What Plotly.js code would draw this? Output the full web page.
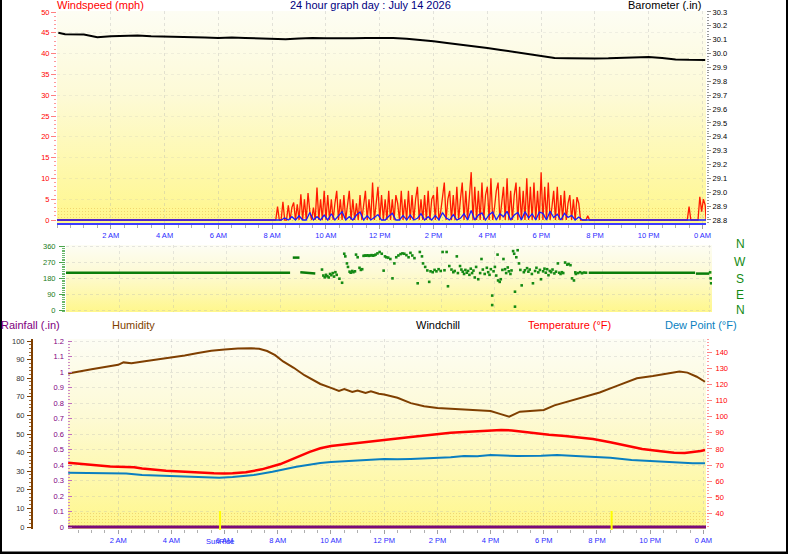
<!DOCTYPE html>
<html>
<head>
<meta charset="utf-8">
<script src="https://cdn.plot.ly/plotly-3.0.1.min.js"></script>
<style>
  html, body { margin: 0; padding: 0; background: #fff; }
  #wrap { position: relative; width: 798px; height: 554px; overflow: hidden; background: #fff; }
  .bg { position: absolute; background: linear-gradient(to bottom, #fdfdf4 0%, #fdfad6 40%, #fff78c 100%); }
  .band { position: absolute;
          background-image: radial-gradient(rgba(225,175,70,0.45) 0.7px, transparent 1px);
          background-size: 3px 3px; }
  #chart { position: absolute; left: 0; top: 0; width: 798px; height: 554px; }
</style>
</head>
<body>
<div id="wrap">
  <div class="bg" style="left:57px;top:11px;width:649px;height:212px;"></div>
  <div class="band" style="left:57px;top:207px;width:649px;height:14px;"></div>
  <div class="bg" style="left:66px;top:245px;width:646px;height:67px;"></div>
  <div class="bg" style="left:68px;top:339px;width:638px;height:190px;"></div>
  <div class="band" style="left:68px;top:512px;width:638px;height:15px;"></div>
  <div id="chart"></div>
</div>
<script>
// ---- Day log, July 14 2026 (times in hours since midnight unless noted) ----

// Barometer (inHg)
const baroHours = [0.05,0.3,1,1.5,2,2.5,3,3.5,4,4.5,5,5.5,6,6.5,7,7.5,8,8.5,9,9.5,10,10.5,11,11.5,12,12.5,13,13.5,14,14.5,15,15.5,16,16.5,17,17.5,18,18.5,19,19.5,20,20.5,21,21.5,22,22.5,23,23.5,24,24.1];
const baroValues = [30.150,30.140,30.138,30.118,30.124,30.130,30.131,30.124,30.122,30.121,30.122,30.115,30.112,30.116,30.112,30.108,30.103,30.104,30.108,30.112,30.110,30.108,30.110,30.113,30.114,30.112,30.106,30.098,30.088,30.076,30.065,30.053,30.040,30.026,30.012,29.995,29.980,29.968,29.966,29.964,29.965,29.966,29.968,29.972,29.976,29.968,29.958,29.955,29.954,29.954];

// Wind gust (mph), times in minutes
const gustMinutes = [0,476,
  480,484,488,492,496,500,504,508,512,516,520,524,528,532,536,
  540,544,548,552,556,560,564,568,572,576,580,584,588,592,596,
  600,604,608,612,616,620,624,628,632,636,640,644,648,652,656,
  660,664,668,672,676,680,684,688,692,696,700,704,708,712,716,
  720,724,728,732,736,740,744,748,752,756,760,764,768,772,776,
  780,784,788,792,796,800,804,808,812,816,820,824,828,832,836,
  840,844,848,852,856,860,864,868,872,876,880,884,888,892,896,
  900,904,908,912,916,920,924,928,932,936,940,944,948,952,956,
  960,964,968,972,976,980,984,988,992,996,1000,1004,1008,1012,1016,
  1020,1024,1028,1032,1036,1040,1044,1048,1052,1056,1060,1064,1068,1072,1076,
  1080,1084,1088,1092,1096,1100,1104,1108,1112,1116,1120,1124,1128,1132,1136,
  1140,1144,1148,1152,1156,1160,1164,1168,
  1180,1184,1188,1406,1410,1414,1430,1434,1438,1442,1446,1448];
const gustValues = [0,0,
  0,0,0,3.2,0,0,4.4,0,0,3.5,0,3,4.2,0,3.8,
  0,6.2,0,5,0,6.5,2,0,3,0,7.8,0,5,0,7,
  0,6,0,5,0,4,7,0,5,0,6,0,4,7,0,
  5,0,4,0,6,0,4,7,0,5,0,9,0,5,8,
  0,6,0,5,0,7,0,5,0,6,4,0,7,0,5,
  0,7,0,6,0,5,8,0,5,0,6,0,7,0,5,
  6,0,8,0,2,6,9,0,5,7,0,6,0,8,0,
  5,9,0,7,0,6,11.5,0,8,0,7,0,9,0,6,
  8,0,10,0,3,7,9,0,4,8,0,10,0,7,0,
  6,9,0,8,0,7,0,10,0,8,0,9,0,7,0,
  11.5,0,8,0,9,0,3,7,0,8,0,6,0,7,0,
  4,6,0,5,0,5.5,4,0,
  0,1,0,0,3.2,0,0,5.6,2,5,3.6,0];

// Average wind speed (mph), times in minutes
const avgMinutes = [0,492,
  500,508,516,524,532,540,548,556,564,572,580,588,596,604,612,620,628,636,644,652,
  660,668,676,684,692,700,708,716,724,732,740,748,756,764,772,780,788,796,804,812,
  820,828,836,844,852,860,868,876,884,892,900,908,916,924,932,940,948,956,964,972,
  980,988,996,1004,1012,1020,1028,1036,1044,1052,1060,1068,1076,1084,1092,1100,1108,1116,1124,1132,
  1140,1148,1156,1164,1172,1448];
const avgValues = [0,0,
  0,0.5,0,0.8,0,1.0,0,0,1.8,0,0.8,0,1.2,0,1.5,0,0.9,2.0,0,0.8,
  0,1.2,1.9,0,1.0,0,0.6,1.3,0,0,0.9,1.6,0,0,1.1,0,1.2,0,0.4,1.5,
  0,0.8,0,1.1,0,1.8,0.5,0,1.3,0,0.4,1.5,0,2.3,0,1.2,1.7,0,1.3,1.9,
  0,1.5,0.8,2.1,0,1.2,1.8,0,2.0,0.5,1.5,0,1.9,1.6,0,2.1,0.6,1.4,0,1.6,
  0.6,1.1,0,0.7,0,0];

// Wind direction (degrees): steady stretches (null separates stretches)
const dirSteadyHours = [0,8.36,null,8.46,8.71,null,8.74,9.0,9.3,null,19.5,23.47,null,23.5,24.0];
const dirSteadyValues = [212,212,null,298,298,null,214,210,208,null,212,212,null,207,207];
// Wind direction (degrees): individual readings
const dirHours = [9.55,9.6,9.65,9.7,9.75,9.8,9.85,9.9,9.95,10.0,10.05,10.1,10.2,10.3,10.38,10.42,10.48,10.52,10.58,10.62,
  10.68,10.72,10.78,10.82,10.88,10.95,11.0,11.05,11.1,11.15,11.2,11.25,11.3,11.35,11.4,11.45,11.5,11.55,11.62,11.7,
  11.78,11.85,11.9,11.95,12.02,12.1,12.18,12.25,12.32,12.4,12.48,12.55,12.62,12.7,12.78,12.85,12.92,13.0,13.12,13.2,
  13.28,13.32,13.4,13.48,13.55,13.6,13.68,13.75,13.82,13.9,13.98,14.05,14.12,14.2,14.25,14.3,14.38,14.45,14.5,14.58,
  14.62,14.7,14.75,14.8,14.85,14.9,14.95,15.0,15.05,15.1,15.15,15.2,15.25,15.3,15.38,15.45,15.5,15.55,15.62,15.7,
  15.75,15.8,15.85,15.9,15.9,15.95,16.0,16.05,16.1,16.12,16.18,16.22,16.28,16.32,16.38,16.42,16.48,16.52,16.58,16.62,
  16.68,16.72,16.75,16.75,16.8,16.85,16.9,16.95,17.0,17.08,17.12,17.2,17.25,17.3,17.38,17.42,17.5,17.55,17.62,17.68,
  17.72,17.8,17.85,17.9,17.95,18.0,18.05,18.1,18.15,18.22,18.28,18.35,18.4,18.45,18.5,18.55,18.62,18.7,18.75,18.82,
  18.88,18.95,19.0,19.02,19.1,19.18,19.25,19.32,19.4,24.03,24.05,24.07];
const dirValues = [230,196,186,200,192,185,205,198,210,190,215,200,178,155,320,305,265,245,218,212,
  222,215,220,315,300,240,228,232,308,310,309,311,308,310,312,309,311,315,322,330,
  320,224,305,300,298,290,180,265,300,310,318,322,320,312,300,325,310,295,152,330,
  305,265,245,225,160,220,215,228,220,232,222,330,226,330,135,250,230,215,222,305,
  210,250,230,218,205,228,212,222,200,235,210,224,185,245,175,210,290,230,205,240,
  215,200,232,82,28,220,245,196,315,168,160,175,228,290,232,210,242,220,205,225,
  335,320,104,19,300,340,265,228,140,215,226,238,218,230,205,152,222,240,214,228,
  175,220,235,212,232,198,222,215,230,208,218,265,212,205,215,210,270,258,262,255,
  180,168,214,205,210,215,209,213,212,214,180,152];

// Humidity (%)
const humHours = [0.12,0.5,1,1.5,2,2.2,2.5,3,3.5,4,4.5,5,5.5,6,6.5,7,7.3,7.6,7.9,8.2,8.6,9,9.3,9.6,10,10.3,10.5,10.8,11,11.3,11.5,11.8,12,12.5,13,13.5,14,14.5,15,15.5,16,16.35,16.7,17.1,17.5,18,18.4,18.8,19.2,19.6,20.1,20.7,21.1,21.5,22.1,22.6,23.1,23.4,23.75,24.06];
const humValues = [82.5,83.6,84.8,86.0,87.2,88.5,88.0,89.1,90.0,91.0,92.2,93.6,94.8,95.4,96.0,96.1,95.8,94.6,92.4,89.0,85.6,81.6,79.2,76.9,74.8,73.2,74.1,72.6,73.4,72.1,72.9,71.6,71.2,69.5,66.6,64.9,64.0,63.6,63.2,63.0,62.4,60.8,59.3,62.0,62.4,62.9,65.4,67.0,68.6,70.4,72.3,75.6,78.0,80.0,81.2,82.6,83.6,83.0,80.8,78.1];

// Temperature (°F)
const tempHours = [0.12,0.8,1.7,2.6,2.9,3.8,4.6,5.2,5.6,6.0,6.3,6.8,7.4,8.1,8.7,9.2,9.6,10,10.5,11.1,11.5,12,12.5,13,13.5,14,14.5,15,15.5,16,16.4,16.8,17.5,18.2,18.8,19.3,19.85,20.5,21.1,21.7,22.4,22.9,23.3,23.6,23.9,24.06];
const tempValues = [71.4,70.4,69.0,68.6,67.8,66.5,65.6,65.1,64.8,64.7,64.8,65.5,67.3,70.6,74.8,78.2,80.4,81.8,82.7,83.7,84.5,85.5,86.5,87.4,88.4,89.3,90.0,90.5,90.9,91.2,91.7,91.5,90.1,88.8,88.0,87.1,86.1,84.1,81.8,79.9,78.5,77.6,77.5,77.9,78.7,79.3];

// Dew point (°F)
const dewHours = [0.12,0.8,1.7,2.3,2.9,3.8,4.6,5.3,5.8,6.3,7.1,7.8,8.7,9.6,10,10.5,11.1,11.5,12,12.5,13,13.5,14,14.5,15,15.5,16,16.4,17,17.9,18.5,19.2,19.85,20.5,21.3,21.9,22.9,23.6,24.06];
const dewValues = [65.2,65.0,64.6,64.7,63.8,63.2,62.7,62.6,62.1,62.6,63.8,65.8,68.9,71.2,71.9,72.3,73.1,73.2,73.7,73.5,73.8,74.0,74.3,74.8,75.6,75.4,76.2,76.0,75.6,75.8,76.2,75.6,75.2,74.5,73.1,72.5,71.9,71.1,71.1];

// Rainfall (in)
const rainHours = [0.11, 24.1];
const rainValues = [0, 0];

// Sunrise / sunset (hours)
const sunTimes = [5.83, 20.55];

// Hour tick labels
const hourTicks = [2,4,6,8,10,12,14,16,18,20,22,24];
const hourLabels = ['2 AM','4 AM','6 AM','8 AM','10 AM','12 PM','2 PM','4 PM','6 PM','8 PM','10 PM','0 AM'];
const compassLabels = ['N','W','S','E','N'];

// ---- layout helpers (pixel -> paper fraction) ----
const W = 798, H = 554;
const dx = (a, b) => [a / W, b / W];
const dy = (top, bottom) => [1 - bottom / H, 1 - top / H];
const px = x => x / W;
const py = y => 1 - y / H;
const FONT = 'Liberation Sans, Arial, sans-serif';
const toHours = m => m.map(v => v / 60);

const traces = [
  { x: baroHours, y: baroValues, xaxis: 'x', yaxis: 'y2', mode: 'lines',
    line: { color: '#000000', width: 2 }, hoverinfo: 'skip' },
  { x: toHours(gustMinutes), y: gustValues, xaxis: 'x', yaxis: 'y', mode: 'lines',
    line: { color: '#ff1a00', width: 1.3 }, hoverinfo: 'skip' },
  { x: toHours(avgMinutes), y: avgValues, xaxis: 'x', yaxis: 'y', mode: 'lines',
    line: { color: '#1a1aff', width: 1.3 }, hoverinfo: 'skip' },
  { x: dirSteadyHours, y: dirSteadyValues, xaxis: 'x2', yaxis: 'y3', mode: 'lines',
    line: { color: '#0a7d0a', width: 2.5 }, connectgaps: false, hoverinfo: 'skip' },
  { x: dirHours, y: dirValues, xaxis: 'x2', yaxis: 'y3', mode: 'markers',
    marker: { color: '#148a14', size: 2.6, symbol: 'square' }, hoverinfo: 'skip' },
  { x: rainHours, y: rainValues, xaxis: 'x3', yaxis: 'y4', mode: 'lines',
    line: { color: '#7a0a7a', width: 3 }, hoverinfo: 'skip' },
  { x: humHours, y: humValues, xaxis: 'x3', yaxis: 'y5', mode: 'lines',
    line: { color: '#7f3f00', width: 2 }, hoverinfo: 'skip' },
  { x: dewHours, y: dewValues, xaxis: 'x3', yaxis: 'y6', mode: 'lines',
    line: { color: '#0a7fc0', width: 2 }, hoverinfo: 'skip' },
  { x: tempHours, y: tempValues, xaxis: 'x3', yaxis: 'y6', mode: 'lines',
    line: { color: '#ff0000', width: 2.5 }, hoverinfo: 'skip' }
];

const grid = { showgrid: true, gridcolor: 'rgba(175,175,175,0.35)', griddash: 'dot', gridwidth: 1 };
const hourAxis = (domain, range) => Object.assign({
  domain, range, tickmode: 'array', tickvals: hourTicks, ticktext: hourLabels,
  ticks: 'outside', ticklen: 4, tickcolor: '#a0a0a0', zeroline: false,
  tickfont: { family: FONT, size: 7.5, color: '#2b2bff' },
  minor: { dtick: 0.5, tick0: 0, ticks: 'outside', ticklen: 3, tickcolor: '#b0b0b0', showgrid: false },
  fixedrange: true
}, grid);

const annotations = [
  { text: 'Windspeed (mph)', x: px(56), y: py(5), color: '#ff0000' },
  { text: '24 hour graph day : July 14 2026', x: px(289), y: py(5), color: '#000080' },
  { text: 'Barometer (.in)', x: px(627), y: py(5), color: '#000000' },
  { text: 'Rainfall (.in)', x: px(0), y: py(325), color: '#800080' },
  { text: 'Humidity', x: px(111), y: py(325), color: '#7f3f00' },
  { text: 'Windchill', x: px(415), y: py(325), color: '#000000' },
  { text: 'Temperature (°F)', x: px(527), y: py(325), color: '#ff0000' },
  { text: 'Dew Point (°F)', x: px(664), y: py(325), color: '#0a7fc0' }
].map(a => ({ text: a.text, x: a.x, y: a.y, xref: 'paper', yref: 'paper',
  xanchor: 'left', yanchor: 'middle', showarrow: false, borderpad: 0,
  font: { family: FONT, size: 11, color: a.color } }));

const compassY = [244, 262, 279, 295, 310];
compassLabels.forEach((c, i) => annotations.push({
  text: c, x: px(740), y: py(compassY[i]), xref: 'paper', yref: 'paper',
  xanchor: 'center', yanchor: 'middle', showarrow: false,
  font: { family: FONT, size: 12, color: '#138a13' } }));

annotations.push({ text: 'SunRise', x: sunTimes[0], xref: 'x3', y: py(541), yref: 'paper',
  xanchor: 'center', yanchor: 'middle', showarrow: false,
  font: { family: FONT, size: 7.5, color: '#2b2bff' } });

const shapes = [
  // frame
  { type: 'rect', xref: 'paper', yref: 'paper', x0: 0, x1: px(2), y0: py(554), y1: 1,
    fillcolor: '#000', line: { width: 0 } },
  { type: 'rect', xref: 'paper', yref: 'paper', x0: px(786), x1: px(788), y0: py(554), y1: 1,
    fillcolor: '#000', line: { width: 0 } },
  { type: 'rect', xref: 'paper', yref: 'paper', x0: 0, x1: px(788), y0: py(554), y1: py(551.5),
    fillcolor: '#000', line: { width: 0 } }
];
sunTimes.forEach(t => shapes.push({ type: 'line', xref: 'x3', yref: 'paper',
  x0: t, x1: t, y0: py(530), y1: py(511), line: { color: '#ffff00', width: 2 } }));

const layout = {
  width: W, height: H, margin: { l: 0, r: 0, t: 0, b: 0 },
  paper_bgcolor: 'rgba(0,0,0,0)', plot_bgcolor: 'rgba(0,0,0,0)',
  showlegend: false, font: { family: FONT },
  xaxis: Object.assign(hourAxis(dx(57, 706), [0, 24.13]), {
    anchor: 'y', showline: true, linecolor: '#3c3cff', linewidth: 2 }),
  yaxis: Object.assign({
    domain: dy(11, 223), range: [-0.72, 50.24], anchor: 'x',
    tickvals: [0,5,10,15,20,25,30,35,40,45,50], ticks: 'outside', ticklen: 5, tickcolor: '#ff8080',
    tickfont: { family: FONT, size: 7.5, color: '#ff0000' }, zeroline: false, showline: false,
    minor: { dtick: 1, tick0: 0, ticks: 'outside', ticklen: 2, tickcolor: '#ff9a9a', showgrid: false },
    fixedrange: true }, grid, { gridcolor: 'rgba(175,175,175,0.18)' }),
  yaxis2: {
    overlaying: 'y', side: 'right', anchor: 'x', range: [28.778, 30.307],
    dtick: 0.1, tick0: 28.8, ticks: 'outside', ticklen: 4, tickcolor: '#8a8a8a',
    tickformat: '.1f', tickfont: { family: FONT, size: 7.5, color: '#000' },
    showgrid: false, zeroline: false, showline: false,
    minor: { dtick: 0.02, tick0: 28.8, ticks: 'outside', ticklen: 2, tickcolor: '#9a9a9a' },
    fixedrange: true },
  xaxis2: { domain: dx(66, 712), range: [0, 24.1], anchor: 'y3',
    showticklabels: false, ticks: '', showgrid: true, gridcolor: 'rgba(175,175,175,0.3)', griddash: 'dot',
    tickvals: hourTicks, zeroline: false, showline: false, fixedrange: true },
  yaxis3: { domain: dy(245, 312), range: [-11.4, 369.7], anchor: 'x2',
    tickvals: [0, 90, 180, 270, 360], ticks: 'outside', ticklen: 6, tickcolor: '#4aa54a',
    tickfont: { family: FONT, size: 7.5, color: '#1a7a1a' }, ticklabelstandoff: 2,
    showgrid: true, gridcolor: 'rgba(175,175,175,0.3)', griddash: 'dot',
    minor: { dtick: 10, tick0: 0, ticks: 'outside', ticklen: 3, tickcolor: '#6ab86a', showgrid: false },
    zeroline: false, showline: false, fixedrange: true },
  xaxis3: Object.assign(hourAxis(dx(68, 706), [0.113, 24.098]), { anchor: 'y4', showline: false }),
  yaxis4: {
    domain: dy(339, 529), range: [-0.0129, 1.2129], anchor: 'x3', side: 'left',
    dtick: 0.1, tick0: 0, tickformat: '.1~f', ticks: 'inside', ticklen: 4, tickcolor: '#c070c0',
    tickfont: { family: FONT, size: 7.5, color: '#800080' }, ticklabelstandoff: 3,
    minor: { dtick: 0.02, tick0: 0, ticks: 'inside', ticklen: 2, tickcolor: '#cc8acc', showgrid: false },
    showgrid: true, gridcolor: 'rgba(175,175,175,0.28)', griddash: 'dot',
    zeroline: false, showline: false, fixedrange: true },
  yaxis5: {
    overlaying: 'y4', anchor: 'free', position: px(32), side: 'left', range: [-1.075, 101.075],
    dtick: 10, tick0: 0, ticks: 'outside', ticklen: 4, tickcolor: '#7f3f00',
    tickfont: { family: FONT, size: 7.5, color: '#333333' }, ticklabelstandoff: 1,
    minor: { dtick: 2, tick0: 0, ticks: 'outside', ticklen: 2, tickcolor: '#9a6a3a' },
    showline: true, linecolor: '#7f3f00', linewidth: 2,
    showgrid: false, zeroline: false, fixedrange: true },
  yaxis6: {
    overlaying: 'y4', side: 'right', anchor: 'x3', range: [30.25, 148.26],
    tickvals: [40,50,60,70,80,90,100,110,120,130,140], ticks: 'outside', ticklen: 5, tickcolor: '#ff8080',
    tickfont: { family: FONT, size: 7.5, color: '#ff0000' }, ticklabelstandoff: 2,
    minor: { dtick: 2, tick0: 30, ticks: 'outside', ticklen: 2, tickcolor: '#ff9a9a' },
    showgrid: false, zeroline: false, showline: false, fixedrange: true },
  annotations, shapes
};

Plotly.newPlot('chart', traces, layout, { staticPlot: true, displayModeBar: false });
</script>
</body>
</html>
